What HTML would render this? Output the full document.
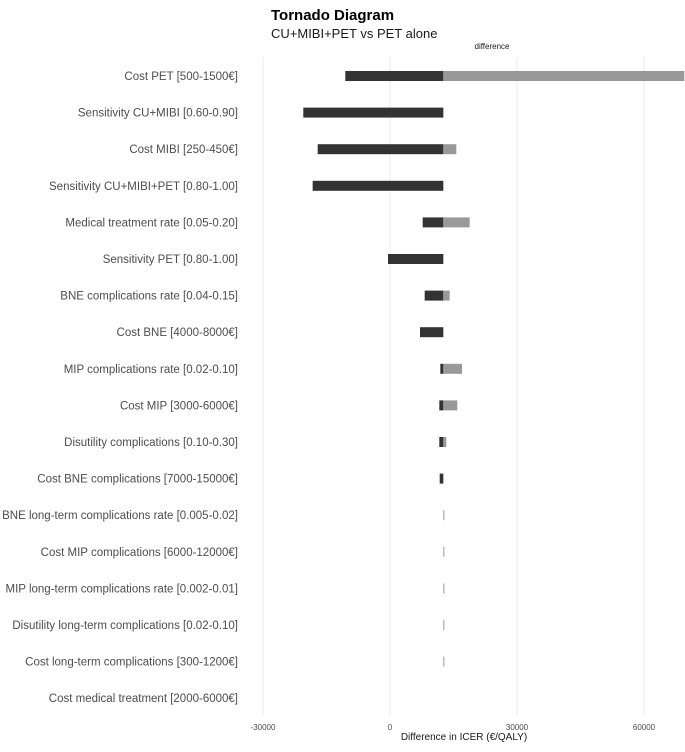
<!DOCTYPE html>
<html><head><meta charset="utf-8"><style>
body{margin:0;background:#fff;font-family:"Liberation Sans",sans-serif}
svg text{font-family:"Liberation Sans",sans-serif}
</style></head><body>
<svg id="chart" width="685" height="747">
<text x="271" y="20" font-size="15" font-weight="bold" fill="#000">Tornado Diagram</text>
<text x="271" y="38" font-size="13" fill="#1a1a1a">CU+MIBI+PET vs PET alone</text>
<text x="492" y="49" font-size="8" fill="#1a1a1a" text-anchor="middle">difference</text>
<g id="grid"></g><g id="bars"></g><g id="labels"></g><g id="ticks"></g>
<text x="464" y="740" font-size="10" fill="#1a1a1a" text-anchor="middle">Difference in ICER (€/QALY)</text>
</svg>
<script>
const categories=["Cost PET [500-1500€]","Sensitivity CU+MIBI [0.60-0.90]","Cost MIBI [250-450€]","Sensitivity CU+MIBI+PET [0.80-1.00]","Medical treatment rate [0.05-0.20]","Sensitivity PET [0.80-1.00]","BNE complications rate [0.04-0.15]","Cost BNE [4000-8000€]","MIP complications rate [0.02-0.10]","Cost MIP [3000-6000€]","Disutility complications [0.10-0.30]","Cost BNE complications [7000-15000€]","BNE long-term complications rate [0.005-0.02]","Cost MIP complications [6000-12000€]","MIP long-term complications rate [0.002-0.01]","Disutility long-term complications [0.02-0.10]","Cost long-term complications [300-1200€]","Cost medical treatment [2000-6000€]"];
const baseValue=12600;
const lowValues=[-10560,-20480,-17080,-18270,7720,-470,8190,7090,11890,11650,11650,11740,12600,12600,12600,12600,12600,12600];
const highValues=[69520,12600,15660,12600,18820,12600,14100,12600,17010,15900,13300,12600,12800,12780,12750,12720,12720,12600];
const tickValues=[-30000,0,30000,60000];
const tickLabels=["-30000","0","30000","60000"];
const ns="http://www.w3.org/2000/svg";
const x=v=>390+(v)*127/30000;
const rowY=i=>76+i*36.6;
const mk=(t,a,p)=>{const e=document.createElementNS(ns,t);for(const k in a)e.setAttribute(k,a[k]);document.getElementById(p).appendChild(e);return e;};
tickValues.forEach((v,i)=>{
 const g=mk('line',{x1:x(v),x2:x(v),y1:57,y2:716,stroke:'#ebebeb','stroke-width':1},'grid');
 
 
 const t=mk('text',{x:x(v),y:730,'font-size':8,fill:'#4d4d4d','text-anchor':'middle'},'ticks');
 t.textContent=tickLabels[i];
 
 
});
categories.forEach((c,i)=>{
 const y=rowY(i);
 const t=mk('text',{x:238,y:y+4,'font-size':11.5,fill:'#4d4d4d','text-anchor':'end'},'labels');
 t.textContent=c;
 
 
 const lo=Math.min(lowValues[i],baseValue), hi=Math.max(highValues[i],baseValue);
 if(lo<baseValue){
  const w=Math.max(x(baseValue)-x(lo),1);
  const r=mk('rect',{x:x(baseValue)-w,y:y-5,width:w,height:10,fill:'#333333'},'bars');
  
  
 }
 if(hi>baseValue){
  const w=Math.max(x(hi)-x(baseValue),1);
  const r=mk('rect',{x:x(baseValue),y:y-5,width:w,height:10,fill:'#999999'},'bars');
  
  
 }
});
</script>
</body></html>
